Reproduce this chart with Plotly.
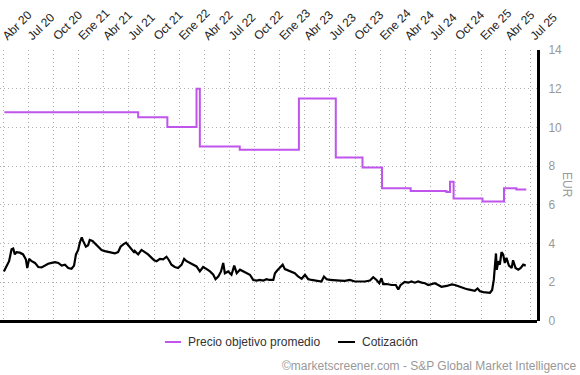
import plotly.graph_objects as go

# ---- Data ----
target_dates = ["2020-04-05", "2021-08-04", "2021-11-18", "2022-03-04", "2022-03-16",
                "2022-08-08", "2023-03-11", "2023-07-23", "2023-10-28", "2024-01-07",
                "2024-04-20", "2024-08-28", "2024-09-10", "2024-09-23", "2025-01-06",
                "2025-03-25", "2025-05-09", "2025-06-14"]
target_values = [10.78, 10.52, 10.02, 12.0, 9.02,
                 8.85, 11.5, 8.45, 7.93, 6.86,
                 6.71, 6.67, 7.2, 6.33, 6.17,
                 6.86, 6.79, 6.79]

price_dates = [
    "2020-04-03", "2020-04-13", "2020-04-22", "2020-05-01", "2020-05-07", "2020-05-13", "2020-05-19",
    "2020-05-31", "2020-06-12", "2020-06-22", "2020-06-27", "2020-07-04", "2020-07-13", "2020-07-25",
    "2020-08-06", "2020-08-18", "2020-08-30", "2020-09-11", "2020-09-24", "2020-10-06", "2020-10-18",
    "2020-10-30", "2020-11-11", "2020-11-23", "2020-12-05", "2020-12-14", "2020-12-21", "2020-12-29",
    "2021-01-04", "2021-01-11", "2021-01-16", "2021-01-26", "2021-02-03", "2021-02-09", "2021-02-19",
    "2021-02-27", "2021-03-12", "2021-03-24", "2021-04-05", "2021-04-17", "2021-04-29", "2021-05-11",
    "2021-05-23", "2021-06-01", "2021-06-11", "2021-06-21", "2021-06-29", "2021-07-11", "2021-07-21",
    "2021-07-23", "2021-08-04", "2021-08-16", "2021-08-28", "2021-09-09", "2021-09-22", "2021-10-01",
    "2021-10-10", "2021-10-22", "2021-11-03", "2021-11-15", "2021-11-24", "2021-12-03", "2021-12-15",
    "2021-12-27", "2022-01-09", "2022-01-18", "2022-01-27", "2022-02-08", "2022-02-20", "2022-03-04",
    "2022-03-16", "2022-03-28", "2022-04-10", "2022-04-22", "2022-05-04", "2022-05-12", "2022-05-22",
    "2022-06-01", "2022-06-09", "2022-06-15", "2022-06-27", "2022-07-09", "2022-07-19", "2022-07-28",
    "2022-08-09", "2022-08-21", "2022-09-02", "2022-09-14", "2022-09-26", "2022-10-08", "2022-10-20",
    "2022-11-01", "2022-11-14", "2022-11-23", "2022-12-08", "2022-12-14", "2022-12-22", "2022-12-30",
    "2023-01-11", "2023-01-19", "2023-01-31", "2023-02-12", "2023-02-24", "2023-03-08", "2023-03-21",
    "2023-04-02", "2023-04-14", "2023-04-26", "2023-05-08", "2023-05-20", "2023-06-01", "2023-06-10",
    "2023-06-20", "2023-07-02", "2023-07-20", "2023-08-07", "2023-08-25", "2023-09-12", "2023-09-30",
    "2023-10-18", "2023-11-06", "2023-11-24", "2023-12-06", "2023-12-18", "2023-12-28", "2024-01-05",
    "2024-01-11", "2024-01-24", "2024-02-11", "2024-02-26", "2024-03-06", "2024-03-14", "2024-03-29",
    "2024-04-11", "2024-04-23", "2024-05-05", "2024-05-17", "2024-05-30", "2024-06-11", "2024-06-23",
    "2024-07-05", "2024-07-17", "2024-07-29", "2024-08-10", "2024-08-29", "2024-09-16", "2024-09-28",
    "2024-10-10", "2024-10-22", "2024-11-03", "2024-11-15", "2024-11-27", "2024-12-09", "2024-12-19",
    "2024-12-28", "2025-01-09", "2025-01-21", "2025-02-02", "2025-02-10", "2025-02-16", "2025-02-20",
    "2025-02-24", "2025-02-27", "2025-03-04", "2025-03-10", "2025-03-16", "2025-03-22", "2025-03-28",
    "2025-04-03", "2025-04-12", "2025-04-22", "2025-04-27", "2025-05-06", "2025-05-16", "2025-05-25",
    "2025-06-03", "2025-06-12"]
price_values = [
    2.56, 2.82, 3.09, 3.70, 3.74, 3.44, 3.56,
    3.53, 3.44, 3.18, 2.74, 3.21, 3.09, 3.00,
    2.79, 2.77, 2.86, 2.96, 3.00, 3.04, 3.00,
    2.86, 2.91, 2.74, 2.70, 2.86, 3.44, 3.67,
    4.05, 4.32, 4.14, 3.84, 3.91, 4.19, 4.14,
    4.02, 3.84, 3.67, 3.61, 3.56, 3.53, 3.49,
    3.56, 3.84, 3.96, 4.05, 3.91, 3.67, 3.53,
    3.61, 3.44, 3.67, 3.56, 3.44, 3.26, 3.14,
    3.09, 3.21, 3.18, 3.32, 3.14, 2.91, 2.79,
    2.74, 2.91, 3.21, 3.09, 3.00, 2.91, 2.82,
    2.56, 2.79, 2.68, 2.56, 2.39, 2.16, 2.30,
    2.56, 3.00, 2.47, 2.56, 2.39, 2.86, 2.47,
    2.65, 2.56, 2.47, 2.39, 2.12, 2.09, 2.12,
    2.09, 2.16, 2.12, 2.12, 2.47, 2.61, 2.74,
    2.91, 2.68, 2.61, 2.51, 2.47, 2.30, 2.18,
    2.39, 2.16, 2.12, 2.09, 2.09, 2.04, 2.30,
    2.16, 2.12, 2.09, 2.09, 2.07, 2.12, 2.04,
    2.04, 2.04, 2.09, 2.26, 2.12, 1.95, 2.21,
    1.91, 1.91, 1.86, 1.86, 1.63, 1.85, 2.02,
    1.98, 2.04, 1.98, 2.04, 1.98, 1.95, 1.86,
    1.91, 1.95, 1.86, 1.77, 1.81, 1.89, 1.86,
    1.81, 1.77, 1.68, 1.63, 1.60, 1.56, 1.68,
    1.54, 1.49, 1.46, 1.46, 1.60, 2.12, 2.82,
    3.49, 2.65, 3.09, 2.91, 3.56, 3.44, 3.00,
    3.26, 2.86, 2.74, 3.14, 2.74, 2.65, 2.74,
    2.91, 2.86]

tick_dates = ["2020-04-01", "2020-07-01", "2020-10-01", "2021-01-01", "2021-04-01", "2021-07-01",
              "2021-10-01", "2022-01-01", "2022-04-01", "2022-07-01", "2022-10-01", "2023-01-01",
              "2023-04-01", "2023-07-01", "2023-10-01", "2024-01-01", "2024-04-01", "2024-07-01",
              "2024-10-01", "2025-01-01", "2025-04-01", "2025-07-01"]
tick_labels = ["Abr 20", "Jul 20", "Oct 20", "Ene 21", "Abr 21", "Jul 21", "Oct 21", "Ene 22",
               "Abr 22", "Jul 22", "Oct 22", "Ene 23", "Abr 23", "Jul 23", "Oct 23", "Ene 24",
               "Abr 24", "Jul 24", "Oct 24", "Ene 25", "Abr 25", "Jul 25"]

series_names = ["Precio objetivo promedio", "Cotización"]
series_colors = ["#bf55ec", "#000000"]

FONT = "Liberation Sans, Arial, sans-serif"
GRID = "#b0b0b0"
PLOT_W = 537.0
PLOT_H = 271.0

fig = go.Figure()
fig.add_trace(go.Scatter(x=target_dates, y=target_values, mode="lines", line_shape="hv",
                         line=dict(color=series_colors[0], width=2), name=series_names[0]))
fig.add_trace(go.Scatter(x=price_dates, y=price_values, mode="lines",
                         line=dict(color=series_colors[1], width=2.2), name=series_names[1]))

# custom legend (line sample + label), positioned in paper coordinates
legend_y = -21 / PLOT_H
legend_items = [(165, 181, 186), (338, 355, 360)]
shapes = []
annotations = []
for (x0, x1, xt), name, col in zip(legend_items, series_names, series_colors):
    shapes.append(dict(type="line", xref="paper", yref="paper", x0=x0 / PLOT_W, x1=x1 / PLOT_W,
                       y0=legend_y, y1=legend_y, line=dict(color=col, width=2)))
    annotations.append(dict(text=name, xref="paper", yref="paper", x=xt / PLOT_W, y=legend_y,
                            xanchor="left", yanchor="middle", showarrow=False,
                            font=dict(size=12, color="#333333")))

annotations += [
    dict(text="EUR", xref="paper", yref="paper", x=567 / PLOT_W, y=0.502, textangle=90,
         showarrow=False, font=dict(size=12, color="#999999"), xanchor="center", yanchor="middle"),
    dict(text="©marketscreener.com - S&P Global Market Intelligence", xref="paper", yref="paper",
         x=578 / PLOT_W, y=-45 / PLOT_H, xanchor="right", yanchor="middle", showarrow=False,
         font=dict(size=12, color="#999999")),
]

fig.update_layout(
    width=580, height=375,
    margin=dict(l=0, r=43, t=50, b=54, autoexpand=False),
    paper_bgcolor="white", plot_bgcolor="white",
    font=dict(family=FONT, size=12, color="#333333"),
    showlegend=False,
    xaxis=dict(
        side="top", type="date", automargin=False,
        range=["2020-03-20", "2025-07-23"],
        tickvals=tick_dates, ticktext=tick_labels, tickangle=-45,
        tickfont=dict(size=12, color="#222222"), ticklabeloverflow="allow",
        showgrid=True, gridcolor=GRID, griddash="1px,3px", gridwidth=1,
        showline=False, zeroline=False, ticks="", ticklabelstandoff=4,
    ),
    yaxis=dict(
        side="right", range=[0, 14], dtick=2, automargin=False,
        tickfont=dict(size=12, color="#999999"),
        showgrid=True, gridcolor=GRID, griddash="1px,3px", gridwidth=1,
        showline=True, linecolor="#000000", linewidth=3,
        zeroline=True, zerolinecolor="#000000", zerolinewidth=3,
        ticks="", ticklabelstandoff=6,
    ),
    shapes=shapes,
    annotations=annotations,
)

fig.write_html("out.html", config={"displayModeBar": False},
               post_script="document.body.style.margin='0';document.body.style.padding='0';")
